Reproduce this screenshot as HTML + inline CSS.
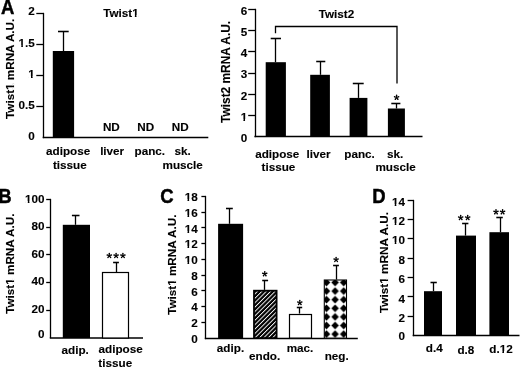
<!DOCTYPE html>
<html><head><meta charset="utf-8"><style>
html,body{margin:0;padding:0;background:#fff;width:520px;height:368px;overflow:hidden;}
svg{display:block;filter:grayscale(1);}
text{font-family:"Liberation Sans", sans-serif;font-weight:bold;fill:#000;stroke:#000;stroke-width:0.12px;}
</style></head><body>
<svg width="520" height="368" viewBox="0 0 520 368">
<defs>
<pattern id="hatch" patternUnits="userSpaceOnUse" width="3.11" height="3.11" patternTransform="translate(-1.6,0) rotate(45)">
<rect width="3.11" height="3.11" fill="#000"/><rect x="0" y="0" width="0.92" height="3.11" fill="#fff"/>
</pattern>
<pattern id="diam" patternUnits="userSpaceOnUse" x="322.2" y="278.2" width="8.6" height="8.6">
<rect width="8.6" height="8.6" fill="#fff"/><path d="M4.3,0.55 L8.05,4.3 L4.3,8.05 L0.55,4.3Z" fill="#000"/>
</pattern>
</defs>
<rect width="520" height="368" fill="#fff"/>
<text x="7.7" y="13.9" text-anchor="middle" font-size="19.7" textLength="13.36" lengthAdjust="spacingAndGlyphs" style="stroke-width:0.45px">A</text>
<text x="5.0" y="202.8" text-anchor="middle" font-size="19.7" textLength="13.36" lengthAdjust="spacingAndGlyphs" style="stroke-width:0.45px">B</text>
<text x="166.9" y="202.6" text-anchor="middle" font-size="19.7" textLength="13.36" lengthAdjust="spacingAndGlyphs" style="stroke-width:0.45px">C</text>
<text x="379.0" y="202.8" text-anchor="middle" font-size="19.7" textLength="13.36" lengthAdjust="spacingAndGlyphs" style="stroke-width:0.45px">D</text>
<line x1="43.50" y1="12.85" x2="43.50" y2="138.15" stroke="#000" stroke-width="1.3"/>
<line x1="36.30" y1="13.50" x2="43.50" y2="13.50" stroke="#000" stroke-width="1.3"/>
<line x1="36.30" y1="44.50" x2="43.50" y2="44.50" stroke="#000" stroke-width="1.3"/>
<line x1="36.30" y1="75.50" x2="43.50" y2="75.50" stroke="#000" stroke-width="1.3"/>
<line x1="36.30" y1="106.50" x2="43.50" y2="106.50" stroke="#000" stroke-width="1.3"/>
<line x1="42.70" y1="137.50" x2="208.30" y2="137.50" stroke="#000" stroke-width="1.3"/>
<text x="34.8" y="15.0" text-anchor="end" font-size="11.7">2</text>
<text x="34.8" y="46.8" text-anchor="end" font-size="11.7">1.5</text>
<text x="34.8" y="77.8" text-anchor="end" font-size="11.7">1</text>
<text x="34.8" y="109.3" text-anchor="end" font-size="11.7">0.5</text>
<text x="34.8" y="139.6" text-anchor="end" font-size="11.7">0</text>
<rect x="52.8" y="51.0" width="21.30" height="86.00" fill="#000"/>
<line x1="63.50" y1="31.10" x2="63.50" y2="51.00" stroke="#000" stroke-width="1.3"/>
<line x1="58.00" y1="31.50" x2="68.70" y2="31.50" stroke="#000" stroke-width="1.56"/>
<text x="120.9" y="16.9" text-anchor="middle" font-size="11.7">Twist1</text>
<text x="111.35" y="130.8" text-anchor="middle" font-size="11.7">ND</text>
<text x="145.7" y="130.8" text-anchor="middle" font-size="11.7">ND</text>
<text x="180.3" y="130.8" text-anchor="middle" font-size="11.7">ND</text>
<text x="68.1" y="155.0" text-anchor="middle" font-size="11.7">adipose</text>
<text x="69.8" y="168.5" text-anchor="middle" font-size="11.7">tissue</text>
<text x="112.15" y="155.0" text-anchor="middle" font-size="11.7">liver</text>
<text x="149.8" y="155.0" text-anchor="middle" font-size="11.7">panc.</text>
<text x="182.5" y="155.0" text-anchor="middle" font-size="11.7">sk.</text>
<text x="182.7" y="168.5" text-anchor="middle" font-size="11.7">muscle</text>
<text transform="translate(13.9,68.8) rotate(-90)" x="0" y="0" text-anchor="middle" font-size="11.7">Twist1 mRNA A.U.</text>
<line x1="255.50" y1="8.85" x2="255.50" y2="137.15" stroke="#000" stroke-width="1.3"/>
<line x1="248.20" y1="9.50" x2="255.50" y2="9.50" stroke="#000" stroke-width="1.3"/>
<line x1="248.20" y1="30.50" x2="255.50" y2="30.50" stroke="#000" stroke-width="1.3"/>
<line x1="248.20" y1="51.50" x2="255.50" y2="51.50" stroke="#000" stroke-width="1.3"/>
<line x1="248.20" y1="73.50" x2="255.50" y2="73.50" stroke="#000" stroke-width="1.3"/>
<line x1="248.20" y1="94.50" x2="255.50" y2="94.50" stroke="#000" stroke-width="1.3"/>
<line x1="248.20" y1="115.50" x2="255.50" y2="115.50" stroke="#000" stroke-width="1.3"/>
<line x1="254.40" y1="136.50" x2="422.50" y2="136.50" stroke="#000" stroke-width="1.3"/>
<text x="247.2" y="14.8" text-anchor="end" font-size="11.7">6</text>
<text x="247.2" y="36.0" text-anchor="end" font-size="11.7">5</text>
<text x="247.2" y="57.199999999999996" text-anchor="end" font-size="11.7">4</text>
<text x="247.2" y="78.4" text-anchor="end" font-size="11.7">3</text>
<text x="247.2" y="99.60000000000001" text-anchor="end" font-size="11.7">2</text>
<text x="247.2" y="120.80000000000001" text-anchor="end" font-size="11.7">1</text>
<text x="247.2" y="142.1" text-anchor="end" font-size="11.7">0</text>
<rect x="265.7" y="62.2" width="20.20" height="74.40" fill="#000"/>
<line x1="275.50" y1="38.20" x2="275.50" y2="62.20" stroke="#000" stroke-width="1.3"/>
<line x1="270.70" y1="38.50" x2="281.00" y2="38.50" stroke="#000" stroke-width="1.56"/>
<rect x="310.2" y="74.8" width="19.70" height="61.80" fill="#000"/>
<line x1="320.50" y1="61.40" x2="320.50" y2="74.80" stroke="#000" stroke-width="1.3"/>
<line x1="316.20" y1="61.50" x2="325.30" y2="61.50" stroke="#000" stroke-width="1.56"/>
<rect x="349.6" y="97.9" width="17.80" height="38.70" fill="#000"/>
<line x1="358.50" y1="83.80" x2="358.50" y2="97.90" stroke="#000" stroke-width="1.3"/>
<line x1="352.80" y1="83.50" x2="363.70" y2="83.50" stroke="#000" stroke-width="1.56"/>
<rect x="387.9" y="108.5" width="17.00" height="28.10" fill="#000"/>
<line x1="396.50" y1="103.10" x2="396.50" y2="108.50" stroke="#000" stroke-width="1.3"/>
<line x1="391.30" y1="103.50" x2="400.40" y2="103.50" stroke="#000" stroke-width="1.56"/>
<polyline points="275.5,33.2 275.5,26.5 397.0,26.5 397.0,83.5" fill="none" stroke="#000" stroke-width="1.3"/>
<path d="M396.93,97.53L397.38,95.38A0.78,0.78 0 0 0 395.82,95.38L396.27,97.53ZM396.70,97.84L398.89,97.61A0.78,0.78 0 0 0 398.40,96.12L396.50,97.22ZM396.33,97.72L397.23,99.73A0.78,0.78 0 0 0 398.49,98.81L396.87,97.34ZM396.33,97.34L394.71,98.81A0.78,0.78 0 0 0 395.97,99.73L396.87,97.72ZM396.70,97.22L394.80,96.12A0.78,0.78 0 0 0 394.31,97.61L396.50,97.84Z" fill="#000"/>
<text x="336.4" y="18.1" text-anchor="middle" font-size="11.7">Twist2</text>
<text x="277.25" y="157.6" text-anchor="middle" font-size="11.7">adipose</text>
<text x="278.4" y="171.4" text-anchor="middle" font-size="11.7">tissue</text>
<text x="318.5" y="157.6" text-anchor="middle" font-size="11.7">liver</text>
<text x="359.6" y="157.6" text-anchor="middle" font-size="11.7">panc.</text>
<text x="395.0" y="157.6" text-anchor="middle" font-size="11.7">sk.</text>
<text x="395.6" y="171.4" text-anchor="middle" font-size="11.7">muscle</text>
<text transform="translate(229.7,71.9) rotate(-90)" x="0" y="0" text-anchor="middle" font-size="11.9">Twist2 mRNA A.U.</text>
<line x1="50.50" y1="198.85" x2="50.50" y2="338.15" stroke="#000" stroke-width="1.3"/>
<line x1="46.20" y1="199.50" x2="50.50" y2="199.50" stroke="#000" stroke-width="1.3"/>
<line x1="46.20" y1="227.50" x2="50.50" y2="227.50" stroke="#000" stroke-width="1.3"/>
<line x1="46.20" y1="254.50" x2="50.50" y2="254.50" stroke="#000" stroke-width="1.3"/>
<line x1="46.20" y1="282.50" x2="50.50" y2="282.50" stroke="#000" stroke-width="1.3"/>
<line x1="46.20" y1="310.50" x2="50.50" y2="310.50" stroke="#000" stroke-width="1.3"/>
<line x1="49.80" y1="338.00" x2="143.00" y2="338.00" stroke="#000" stroke-width="1.5"/>
<text x="44.6" y="202.6" text-anchor="end" font-size="11.7">100</text>
<text x="44.6" y="230.2" text-anchor="end" font-size="11.7">80</text>
<text x="44.6" y="257.8" text-anchor="end" font-size="11.7">60</text>
<text x="44.6" y="285.4" text-anchor="end" font-size="11.7">40</text>
<text x="44.6" y="313.0" text-anchor="end" font-size="11.7">20</text>
<text x="44.6" y="338.0" text-anchor="end" font-size="11.7">0</text>
<rect x="62.8" y="224.8" width="27.20" height="113.20" fill="#000"/>
<line x1="75.50" y1="215.30" x2="75.50" y2="224.80" stroke="#000" stroke-width="1.3"/>
<line x1="71.90" y1="215.50" x2="79.50" y2="215.50" stroke="#000" stroke-width="1.56"/>
<rect x="102.50" y="272.50" width="26.00" height="65.50" fill="#fff" stroke="#000" stroke-width="1.2"/>
<line x1="116.50" y1="262.10" x2="116.50" y2="272.40" stroke="#000" stroke-width="1.3"/>
<line x1="113.10" y1="262.50" x2="118.90" y2="262.50" stroke="#000" stroke-width="1.56"/>
<path d="M109.63,255.63L110.08,253.48A0.78,0.78 0 0 0 108.52,253.48L108.97,255.63ZM109.40,255.94L111.59,255.71A0.78,0.78 0 0 0 111.10,254.22L109.20,255.32ZM109.03,255.82L109.93,257.83A0.78,0.78 0 0 0 111.19,256.91L109.57,255.44ZM109.03,255.44L107.41,256.91A0.78,0.78 0 0 0 108.67,257.83L109.57,255.82ZM109.40,255.32L107.50,254.22A0.78,0.78 0 0 0 107.01,255.71L109.20,255.94Z" fill="#000"/>
<path d="M116.43,255.63L116.88,253.48A0.78,0.78 0 0 0 115.32,253.48L115.77,255.63ZM116.20,255.94L118.39,255.71A0.78,0.78 0 0 0 117.90,254.22L116.00,255.32ZM115.83,255.82L116.73,257.83A0.78,0.78 0 0 0 117.99,256.91L116.37,255.44ZM115.83,255.44L114.21,256.91A0.78,0.78 0 0 0 115.47,257.83L116.37,255.82ZM116.20,255.32L114.30,254.22A0.78,0.78 0 0 0 113.81,255.71L116.00,255.94Z" fill="#000"/>
<path d="M123.23,255.63L123.68,253.48A0.78,0.78 0 0 0 122.12,253.48L122.57,255.63ZM123.00,255.94L125.19,255.71A0.78,0.78 0 0 0 124.70,254.22L122.80,255.32ZM122.63,255.82L123.53,257.83A0.78,0.78 0 0 0 124.79,256.91L123.17,255.44ZM122.63,255.44L121.01,256.91A0.78,0.78 0 0 0 122.27,257.83L123.17,255.82ZM123.00,255.32L121.10,254.22A0.78,0.78 0 0 0 120.61,255.71L122.80,255.94Z" fill="#000"/>
<text x="75.2" y="353.5" text-anchor="middle" font-size="11.7">adip.</text>
<text x="120.65" y="353.2" text-anchor="middle" font-size="11.7">adipose</text>
<text x="115.25" y="366.7" text-anchor="middle" font-size="11.7">tissue</text>
<text transform="translate(13.8,263.65) rotate(-90)" x="0" y="0" text-anchor="middle" font-size="11.7">Twist1 mRNA A.U.</text>
<line x1="205.50" y1="195.85" x2="205.50" y2="339.15" stroke="#000" stroke-width="1.3"/>
<line x1="201.40" y1="196.50" x2="205.50" y2="196.50" stroke="#000" stroke-width="1.3"/>
<line x1="201.40" y1="212.50" x2="205.50" y2="212.50" stroke="#000" stroke-width="1.3"/>
<line x1="201.40" y1="227.50" x2="205.50" y2="227.50" stroke="#000" stroke-width="1.3"/>
<line x1="201.40" y1="243.50" x2="205.50" y2="243.50" stroke="#000" stroke-width="1.3"/>
<line x1="201.40" y1="259.50" x2="205.50" y2="259.50" stroke="#000" stroke-width="1.3"/>
<line x1="201.40" y1="275.50" x2="205.50" y2="275.50" stroke="#000" stroke-width="1.3"/>
<line x1="201.40" y1="290.50" x2="205.50" y2="290.50" stroke="#000" stroke-width="1.3"/>
<line x1="201.40" y1="306.50" x2="205.50" y2="306.50" stroke="#000" stroke-width="1.3"/>
<line x1="201.40" y1="322.50" x2="205.50" y2="322.50" stroke="#000" stroke-width="1.3"/>
<line x1="204.80" y1="338.50" x2="357.80" y2="338.50" stroke="#000" stroke-width="1.3"/>
<text x="197.8" y="201.3" text-anchor="end" font-size="11.7">18</text>
<text x="197.8" y="217.0" text-anchor="end" font-size="11.7">16</text>
<text x="197.8" y="232.70000000000002" text-anchor="end" font-size="11.7">14</text>
<text x="197.8" y="248.4" text-anchor="end" font-size="11.7">12</text>
<text x="197.8" y="264.1" text-anchor="end" font-size="11.7">10</text>
<text x="197.8" y="279.8" text-anchor="end" font-size="11.7">8</text>
<text x="197.8" y="295.5" text-anchor="end" font-size="11.7">6</text>
<text x="197.8" y="311.2" text-anchor="end" font-size="11.7">4</text>
<text x="197.8" y="326.90000000000003" text-anchor="end" font-size="11.7">2</text>
<text x="197.8" y="343.4" text-anchor="end" font-size="11.7">0</text>
<rect x="218.1" y="223.8" width="25.00" height="114.30" fill="#000"/>
<line x1="229.50" y1="208.50" x2="229.50" y2="223.80" stroke="#000" stroke-width="1.3"/>
<line x1="226.00" y1="208.50" x2="232.80" y2="208.50" stroke="#000" stroke-width="1.56"/>
<rect x="254.00" y="290.70" width="22.60" height="47.40" fill="url(#hatch)" stroke="#000" stroke-width="1.8"/>
<line x1="264.50" y1="280.00" x2="264.50" y2="289.90" stroke="#000" stroke-width="1.3"/>
<line x1="262.20" y1="280.50" x2="268.10" y2="280.50" stroke="#000" stroke-width="1.56"/>
<path d="M265.08,273.93L265.53,271.78A0.78,0.78 0 0 0 263.97,271.78L264.42,273.93ZM264.85,274.24L267.04,274.01A0.78,0.78 0 0 0 266.55,272.52L264.65,273.62ZM264.48,274.12L265.38,276.13A0.78,0.78 0 0 0 266.64,275.21L265.02,273.74ZM264.48,273.74L262.86,275.21A0.78,0.78 0 0 0 264.12,276.13L265.02,274.12ZM264.85,273.62L262.95,272.52A0.78,0.78 0 0 0 262.46,274.01L264.65,274.24Z" fill="#000"/>
<rect x="289.50" y="314.50" width="22.00" height="23.60" fill="#fff" stroke="#000" stroke-width="1.2"/>
<line x1="299.50" y1="307.40" x2="299.50" y2="313.60" stroke="#000" stroke-width="1.3"/>
<line x1="296.80" y1="307.50" x2="302.20" y2="307.50" stroke="#000" stroke-width="1.56"/>
<path d="M300.13,302.73L300.58,300.58A0.78,0.78 0 0 0 299.02,300.58L299.47,302.73ZM299.90,303.04L302.09,302.81A0.78,0.78 0 0 0 301.60,301.32L299.70,302.42ZM299.53,302.92L300.43,304.93A0.78,0.78 0 0 0 301.69,304.01L300.07,302.54ZM299.53,302.54L297.91,304.01A0.78,0.78 0 0 0 299.17,304.93L300.07,302.92ZM299.90,302.42L298.00,301.32A0.78,0.78 0 0 0 297.51,302.81L299.70,303.04Z" fill="#000"/>
<rect x="324.30" y="280.00" width="22.20" height="58.10" fill="url(#diam)" stroke="#000" stroke-width="1.1"/>
<line x1="336.50" y1="265.10" x2="336.50" y2="279.60" stroke="#000" stroke-width="1.3"/>
<line x1="333.10" y1="265.50" x2="338.90" y2="265.50" stroke="#000" stroke-width="1.56"/>
<path d="M336.43,259.63L336.88,257.48A0.78,0.78 0 0 0 335.32,257.48L335.77,259.63ZM336.20,259.94L338.39,259.71A0.78,0.78 0 0 0 337.90,258.22L336.00,259.32ZM335.83,259.82L336.73,261.83A0.78,0.78 0 0 0 337.99,260.91L336.37,259.44ZM335.83,259.44L334.21,260.91A0.78,0.78 0 0 0 335.47,261.83L336.37,259.82ZM336.20,259.32L334.30,258.22A0.78,0.78 0 0 0 333.81,259.71L336.00,259.94Z" fill="#000"/>
<text x="230.5" y="351.5" text-anchor="middle" font-size="11.7">adip.</text>
<text x="264.65" y="360.2" text-anchor="middle" font-size="11.7">endo.</text>
<text x="300.0" y="351.5" text-anchor="middle" font-size="11.7">mac.</text>
<text x="336.7" y="360.4" text-anchor="middle" font-size="11.7">neg.</text>
<text transform="translate(175.8,264.7) rotate(-90)" x="0" y="0" text-anchor="middle" font-size="11.7">Twist1 mRNA A.U.</text>
<line x1="413.50" y1="199.85" x2="413.50" y2="336.15" stroke="#000" stroke-width="1.3"/>
<line x1="407.60" y1="200.50" x2="413.50" y2="200.50" stroke="#000" stroke-width="1.3"/>
<line x1="407.60" y1="219.50" x2="413.50" y2="219.50" stroke="#000" stroke-width="1.3"/>
<line x1="407.60" y1="238.50" x2="413.50" y2="238.50" stroke="#000" stroke-width="1.3"/>
<line x1="407.60" y1="258.50" x2="413.50" y2="258.50" stroke="#000" stroke-width="1.3"/>
<line x1="407.60" y1="277.50" x2="413.50" y2="277.50" stroke="#000" stroke-width="1.3"/>
<line x1="407.60" y1="296.50" x2="413.50" y2="296.50" stroke="#000" stroke-width="1.3"/>
<line x1="407.60" y1="316.50" x2="413.50" y2="316.50" stroke="#000" stroke-width="1.3"/>
<line x1="412.70" y1="335.50" x2="519.50" y2="335.50" stroke="#000" stroke-width="1.3"/>
<text x="405.0" y="205.7" text-anchor="end" font-size="11.7">14</text>
<text x="405.0" y="225.07142857142856" text-anchor="end" font-size="11.7">12</text>
<text x="405.0" y="244.44285714285712" text-anchor="end" font-size="11.7">10</text>
<text x="405.0" y="263.8142857142857" text-anchor="end" font-size="11.7">8</text>
<text x="405.0" y="283.18571428571425" text-anchor="end" font-size="11.7">6</text>
<text x="405.0" y="302.5571428571429" text-anchor="end" font-size="11.7">4</text>
<text x="405.0" y="321.92857142857144" text-anchor="end" font-size="11.7">2</text>
<text x="405.0" y="340.3" text-anchor="end" font-size="11.7">0</text>
<rect x="424.0" y="291.2" width="18.00" height="44.40" fill="#000"/>
<line x1="433.50" y1="282.00" x2="433.50" y2="291.20" stroke="#000" stroke-width="1.3"/>
<line x1="430.50" y1="282.50" x2="436.80" y2="282.50" stroke="#000" stroke-width="1.56"/>
<rect x="456.0" y="235.6" width="20.00" height="100.00" fill="#000"/>
<line x1="465.50" y1="223.40" x2="465.50" y2="235.60" stroke="#000" stroke-width="1.3"/>
<line x1="462.10" y1="223.50" x2="468.40" y2="223.50" stroke="#000" stroke-width="1.56"/>
<rect x="489.4" y="232.2" width="19.60" height="103.40" fill="#000"/>
<line x1="500.50" y1="217.80" x2="500.50" y2="232.20" stroke="#000" stroke-width="1.3"/>
<line x1="496.30" y1="217.50" x2="502.80" y2="217.50" stroke="#000" stroke-width="1.56"/>
<path d="M461.03,217.73L461.48,215.58A0.78,0.78 0 0 0 459.92,215.58L460.37,217.73ZM460.80,218.04L462.99,217.81A0.78,0.78 0 0 0 462.50,216.32L460.60,217.42ZM460.43,217.92L461.33,219.93A0.78,0.78 0 0 0 462.59,219.01L460.97,217.54ZM460.43,217.54L458.81,219.01A0.78,0.78 0 0 0 460.07,219.93L460.97,217.92ZM460.80,217.42L458.90,216.32A0.78,0.78 0 0 0 458.41,217.81L460.60,218.04Z" fill="#000"/>
<path d="M468.03,217.73L468.48,215.58A0.78,0.78 0 0 0 466.92,215.58L467.37,217.73ZM467.80,218.04L469.99,217.81A0.78,0.78 0 0 0 469.50,216.32L467.60,217.42ZM467.43,217.92L468.33,219.93A0.78,0.78 0 0 0 469.59,219.01L467.97,217.54ZM467.43,217.54L465.81,219.01A0.78,0.78 0 0 0 467.07,219.93L467.97,217.92ZM467.80,217.42L465.90,216.32A0.78,0.78 0 0 0 465.41,217.81L467.60,218.04Z" fill="#000"/>
<path d="M496.33,212.03L496.78,209.88A0.78,0.78 0 0 0 495.22,209.88L495.67,212.03ZM496.10,212.34L498.29,212.11A0.78,0.78 0 0 0 497.80,210.62L495.90,211.72ZM495.73,212.22L496.63,214.23A0.78,0.78 0 0 0 497.89,213.31L496.27,211.84ZM495.73,211.84L494.11,213.31A0.78,0.78 0 0 0 495.37,214.23L496.27,212.22ZM496.10,211.72L494.20,210.62A0.78,0.78 0 0 0 493.71,212.11L495.90,212.34Z" fill="#000"/>
<path d="M502.93,212.03L503.38,209.88A0.78,0.78 0 0 0 501.82,209.88L502.27,212.03ZM502.70,212.34L504.89,212.11A0.78,0.78 0 0 0 504.40,210.62L502.50,211.72ZM502.33,212.22L503.23,214.23A0.78,0.78 0 0 0 504.49,213.31L502.87,211.84ZM502.33,211.84L500.71,213.31A0.78,0.78 0 0 0 501.97,214.23L502.87,212.22ZM502.70,211.72L500.80,210.62A0.78,0.78 0 0 0 500.31,212.11L502.50,212.34Z" fill="#000"/>
<text x="434.25" y="352.3" text-anchor="middle" font-size="11.7">d.4</text>
<text x="465.85" y="353.7" text-anchor="middle" font-size="11.7">d.8</text>
<text x="500.95" y="352.9" text-anchor="middle" font-size="11.7">d.12</text>
<text transform="translate(387.8,262.5) rotate(-90)" x="0" y="0" text-anchor="middle" font-size="11.8">Twist1 mRNA A.U.</text>
<path d="M18.64,45.00H21.26V47.30H18.64ZM22.91,45.00H25.28V47.30H22.91Z" fill="#fff"/>
<path d="M28.37,76.00H31.00V78.30H28.37ZM32.64,76.00H35.02V78.30H32.64Z" fill="#fff"/>
<path d="M132.23,15.00H134.85V17.30H132.23ZM136.50,15.00H138.87V17.30H136.50Z" fill="#fff"/>
<path transform="translate(13.9,68.8) rotate(-90)" d="M-21.02,-1.59H-18.40V0.70H-21.02ZM-16.75,-1.59H-14.38V0.70H-16.75Z" fill="#fff"/>
<path d="M240.77,119.00H243.40V121.30H240.77ZM245.04,119.00H247.42V121.30H245.04Z" fill="#fff"/>
<path d="M25.17,201.00H27.80V203.30H25.17ZM29.44,201.00H31.82V203.30H29.44Z" fill="#fff"/>
<path transform="translate(13.8,263.65) rotate(-90)" d="M-21.02,-1.59H-18.40V0.70H-21.02ZM-16.75,-1.59H-14.38V0.70H-16.75Z" fill="#fff"/>
<path d="M184.87,199.00H187.50V201.30H184.87ZM189.14,199.00H191.52V201.30H189.14Z" fill="#fff"/>
<path d="M184.87,215.00H187.50V217.30H184.87ZM189.14,215.00H191.52V217.30H189.14Z" fill="#fff"/>
<path d="M184.87,231.00H187.50V233.30H184.87ZM189.14,231.00H191.52V233.30H189.14Z" fill="#fff"/>
<path d="M184.87,246.00H187.50V248.30H184.87ZM189.14,246.00H191.52V248.30H189.14Z" fill="#fff"/>
<path d="M184.87,262.00H187.50V264.30H184.87ZM189.14,262.00H191.52V264.30H189.14Z" fill="#fff"/>
<path transform="translate(175.8,264.7) rotate(-90)" d="M-21.02,-1.59H-18.40V0.70H-21.02ZM-16.75,-1.59H-14.38V0.70H-16.75Z" fill="#fff"/>
<path d="M392.07,204.00H394.70V206.30H392.07ZM396.34,204.00H398.72V206.30H396.34Z" fill="#fff"/>
<path d="M392.07,223.00H394.70V225.30H392.07ZM396.34,223.00H398.72V225.30H396.34Z" fill="#fff"/>
<path d="M392.07,242.00H394.70V244.30H392.07ZM396.34,242.00H398.72V244.30H396.34Z" fill="#fff"/>
<path d="M499.72,351.00H502.34V353.30H499.72ZM503.99,351.00H506.36V353.30H503.99Z" fill="#fff"/>
<path transform="translate(387.8,262.5) rotate(-90)" d="M-21.22,-1.60H-18.58V0.70H-21.22ZM-16.92,-1.60H-14.53V0.70H-16.92Z" fill="#fff"/>
</svg>
</body></html>
